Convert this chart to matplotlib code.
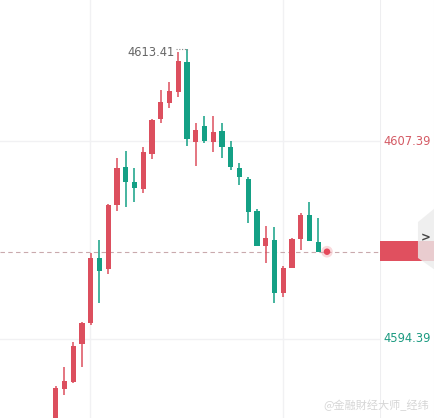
import matplotlib
matplotlib.use("Agg")
import matplotlib.pyplot as plt
from matplotlib.patches import Rectangle, Polygon

# OHLC (30 candles + last one)
opens = [4588.74, 4591.11, 4591.59, 4594.06, 4595.46, 4599.71, 4598.99, 4603.19, 4605.68, 4604.70,
         4604.26, 4606.54, 4608.85, 4609.90, 4610.63, 4612.60, 4607.34, 4608.37, 4607.34, 4608.07,
         4607.02, 4605.65, 4604.91, 4602.81, 4600.52, 4600.89, 4597.39, 4599.07, 4600.96, 4602.53,
         4600.78]
closes = [4591.17, 4591.63, 4593.93, 4595.44, 4599.71, 4598.87, 4603.19, 4605.64, 4604.72, 4604.30,
          4606.67, 4608.77, 4609.95, 4610.67, 4612.64, 4607.50, 4608.11, 4607.41, 4607.98, 4607.02,
          4605.66, 4605.01, 4602.75, 4600.52, 4601.00, 4597.43, 4599.03, 4600.96, 4602.53, 4600.84,
          4600.12]
highs = [4591.30, 4592.55, 4594.21, 4595.50, 4600.06, 4600.89, 4603.25, 4606.25, 4606.73, 4605.60,
         4606.98, 4608.83, 4610.74, 4611.24, 4613.25, 4613.41, 4608.59, 4609.03, 4609.03, 4608.59,
         4607.41, 4605.93, 4605.04, 4602.90, 4601.81, 4601.72, 4599.18, 4601.00, 4602.68, 4603.40,
         4602.35]
lows = [4588.50, 4590.71, 4591.50, 4592.55, 4595.31, 4596.77, 4598.66, 4602.81, 4603.08, 4603.40,
        4604.00, 4606.19, 4608.55, 4609.54, 4610.26, 4607.06, 4605.75, 4607.28, 4606.69, 4606.25,
        4605.49, 4604.47, 4602.03, 4600.52, 4599.36, 4596.77, 4597.17, 4599.05, 4600.23, 4600.84,
        4600.12]

grid_prices = [4607.39, 4594.39]
grid_labels = ["4607.39", "4594.39"]
max_price = 4613.41
last_price = closes[-1]

UP = "#dc4f5e"
DOWN = "#14a085"

W, H = 435, 418
fig = plt.figure(figsize=(W / 100, H / 100), dpi=100)
fig.patch.set_facecolor("white")

ax = fig.add_axes([0, 0, 380 / W, 1])
ax.set_xlim(-6.37, 37.06)
ax.set_ylim(4589.20, 4616.65)
for s in ax.spines.values():
    s.set_visible(False)
ax.set_xticks([])
ax.set_yticks([])

# faint grid
for gp in grid_prices:
    ax.axhline(gp, color="#f1f1f3", lw=1, zorder=0)
for gx in [3.92, 25.98]:
    ax.axvline(gx, color="#f1f1f3", lw=1, zorder=0)

# candles
for i in range(len(opens)):
    o, c, h, l = opens[i], closes[i], highs[i], lows[i]
    col = UP if c >= o else DOWN
    ax.plot([i, i], [l, h], color=col, lw=1.1, zorder=2, solid_capstyle="butt")
    bot = min(o, c)
    ht = max(abs(c - o), 0.05)
    ax.add_patch(Rectangle((i - 0.31, bot), 0.62, ht, facecolor=col, edgecolor="none", zorder=3))

# last price dashed line and dot
ax.axhline(last_price, color="#c9a9ad", lw=0.8, ls=(0, (4, 3)), zorder=1)
n = len(opens)
ax.scatter([n], [last_price], s=70, color="#f0a0a8", alpha=0.4, zorder=4, edgecolors="none")
ax.scatter([n], [last_price], s=22, color="#e5485a", zorder=5, edgecolors="none")

# max label
imax = highs.index(max_price)
ax.plot([imax - 1.2, imax + 0.05], [max_price, max_price], color="#888888", lw=0.8, ls=(0, (1, 1.5)))
ax.plot([imax + 0.05, imax + 0.05], [max_price, max_price - 0.15], color="#888888", lw=0.8, ls=(0, (1, 1.5)))
ax.text(imax - 1.35, max_price - 0.2, f"{max_price:.2f}", ha="right", va="center",
        fontsize=8.3, color="#666666", family="DejaVu Sans")

# right price scale
ax2 = fig.add_axes([380 / W, 0, 55 / W, 1])
ax2.set_xlim(0, 1)
ax2.set_ylim(ax.get_ylim())
ax2.set_xticks([])
ax2.set_yticks([])
for s in ax2.spines.values():
    s.set_visible(False)
ax2.axvline(0.0, color="#eeeef0", lw=1.5)
ax2.axvline(0.995, color="#eeeef0", lw=1.5)
ax2.text(0.5, grid_prices[0], grid_labels[0], ha="center", va="center", fontsize=8.3, color="#d45a64")
ax2.text(0.5, grid_prices[1], grid_labels[1], ha="center", va="center", fontsize=8.3, color="#1a9a80")

ax2.add_patch(Rectangle((0.0, last_price - 0.62), 1.0, 1.3, facecolor="#e0505f",
                        edgecolor="none", zorder=2))
ax2.add_patch(Polygon([(1.0, 4602.99), (0.69, 4602.07), (0.69, 4599.71), (1.0, 4598.92)],
                      closed=True, facecolor="#ececec", edgecolor="none", alpha=0.8, zorder=3))
ax2.text(0.83, 4601.05, ">", ha="center", va="center", fontsize=8.5, color="#444444",
         fontweight="bold", zorder=4)

# watermark
fig.text(376 / W, 1 - 405 / H, "@金融財经大师_经纬", ha="center", va="center", fontsize=8,
         color="#d6d6d6", family=["Noto Sans CJK SC", "DejaVu Sans"])

fig.savefig("out.png", dpi=100, facecolor="white")
